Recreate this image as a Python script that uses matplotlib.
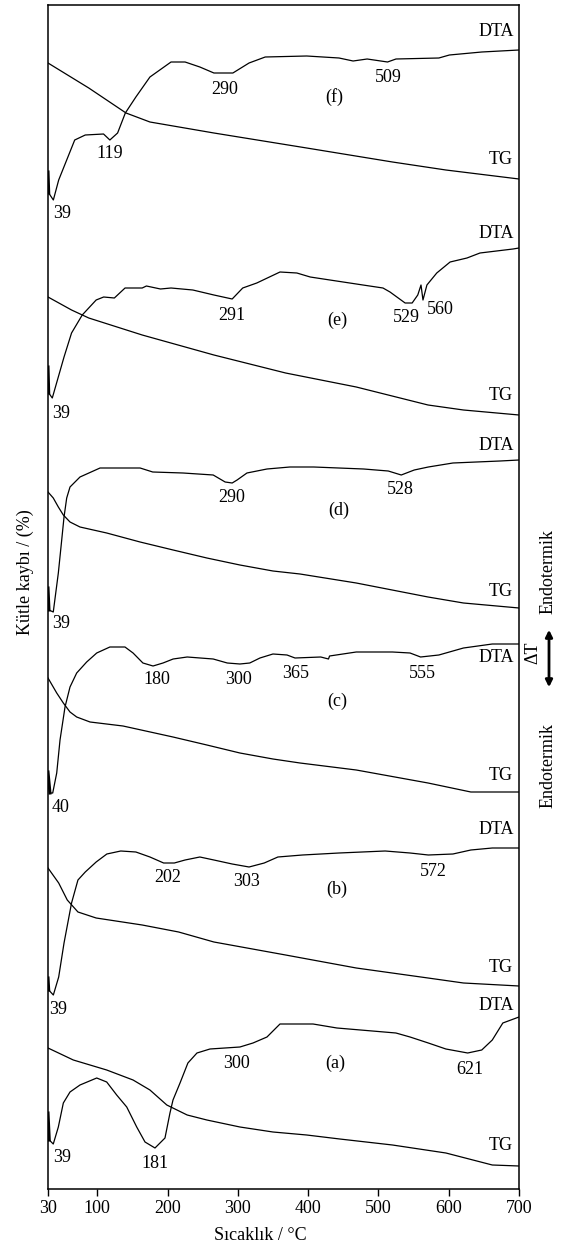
import matplotlib
matplotlib.use("Agg")
import matplotlib.pyplot as plt
from matplotlib.patches import FancyArrowPatch

plt.rcParams['font.family'] = ['Liberation Serif', 'DejaVu Serif']
FS = 13

# y values are signal, arbitrary units (down = larger)
# (f)
t_dta_f = [30, 31, 37.6, 45.2, 68, 83, 109, 118, 129, 140, 155, 175, 205, 225, 246, 266, 293, 316, 339, 398, 444, 464, 484, 513, 525, 586, 601, 647, 700]
y_dta_f = [172, 193, 200, 180, 140, 135, 134, 140, 133, 113, 97, 77, 62, 62, 67, 73, 73, 63, 57, 56, 58, 61, 59, 62, 59, 58, 55, 52, 50]
t_tg_f = [30, 88, 141, 175, 266, 398, 520, 596, 700]
y_tg_f = [63, 88, 113, 122, 133, 148, 162, 170, 179]

# (e)
t_dta_e = [30, 31, 36.1, 52.8, 63.5, 78.7, 98.5, 109.2, 124.4, 139.6, 164, 170, 190, 205, 236, 266, 292, 307, 327,
           360, 384, 403, 431, 478, 506.5, 516.5, 538, 548, 556, 560.6, 563.4, 569, 583, 602, 626, 644.5, 691.5, 700]
y_dta_e = [367, 393, 398, 357, 333, 315, 300, 297, 298, 288, 288, 286, 289, 288, 290, 295, 299, 288, 283,
           272, 273, 277, 280, 285, 288, 292, 303, 303, 295, 285, 300, 285, 273, 262, 258, 253, 249, 248]
t_tg_e = [30, 63.5, 88, 164, 266, 368, 468.5, 570.6, 621, 700]
y_tg_e = [297, 310, 318, 335, 355, 373, 387, 405, 410, 415]

# (d)
t_dta_d = [30, 31.4, 37.5, 44.7, 49.5, 52.8, 56.6, 61.3, 75.5, 104, 161, 179, 222, 265, 282, 292, 299, 313, 341.5, 374,
           408, 479, 514, 532.5, 551, 571, 606, 673, 700]
y_dta_d = [588, 610, 612, 573, 540, 517, 498, 487, 477, 468, 468, 472, 473, 475, 482, 483, 480, 473, 469, 467,
           467, 469, 471, 475, 470, 467, 463, 461, 460]
t_tg_d = [30, 37.5, 44.7, 51.8, 61.3, 75.5, 113.5, 161, 208, 256, 303, 350, 388.5, 468.5, 570.6, 621, 700]
y_tg_d = [492, 498, 507, 515, 522, 527, 533, 542, 550, 558, 565, 571, 574, 583, 597, 603, 608]

# (c)
t_dta_c = [30, 32.8, 36.7, 42.4, 47.1, 54.2, 61.3, 70.8, 85, 99.3, 118, 139.5, 151, 165, 179.4, 193.6, 208, 228, 265,
           285, 303, 317, 331.5, 350, 370, 381.4, 418, 429, 430.5, 468.5, 520, 545, 560, 586, 621, 662, 700]
y_dta_c = [772, 793, 793, 773, 740, 707, 687, 673, 662, 653, 647, 647, 653, 663, 666, 663, 659, 657, 659,
           663, 664, 663, 658, 654, 655, 658, 657, 659, 656, 652, 652, 653, 657, 655, 648, 644, 644]
t_tg_c = [30, 42.4, 51.8, 61.3, 70.8, 89.8, 136.7, 207.8, 256, 303, 350, 388.5, 468.5, 570.6, 631.5, 700]
y_tg_c = [678, 693, 703, 712, 717, 722, 726, 737, 745, 753, 759, 763, 770, 783, 792, 792]

# (b)
t_dta_b = [30, 31, 37.6, 45.2, 52.8, 63.5, 72.6, 83, 98.5, 113.7, 133.5, 155, 175, 194.5, 209.7, 225, 246, 266, 292, 316, 337.6, 357, 392, 444, 509.6, 545, 571, 606, 631.5, 662, 700]
y_dta_b = [978, 990, 995, 977, 943, 903, 880, 872, 862, 854, 851, 852, 857, 863, 863, 860, 857, 860, 864, 867, 863, 857, 855, 853, 851, 853, 855, 854, 850, 848, 848]
t_tg_b = [30, 45.2, 57.4, 72.6, 98.5, 164, 215.8, 266, 368, 468.5, 570.6, 621, 700]
y_tg_b = [868, 883, 900, 912, 918, 925, 932, 942, 955, 968, 978, 983, 986]

# (a)
t_dta_a = [30, 31.8, 37.5, 44.7, 51.8, 61.3, 75.5, 99.3, 113.5, 127.7, 142, 156.2, 168, 182.2, 196.4, 203.5, 207.8, 217.8,
           229, 241.9, 260.4, 303, 321.6, 341.5, 360, 407, 441, 524.9, 545, 571, 596, 627, 647, 662, 677, 700]
y_dta_a = [1113, 1140, 1144, 1127, 1103, 1092, 1085, 1078, 1082, 1095, 1107, 1127, 1142, 1148, 1138, 1113, 1100, 1083,
           1063, 1053, 1049, 1047, 1043, 1037, 1024, 1024, 1028, 1033, 1037, 1043, 1049, 1053, 1050, 1040, 1023, 1017]
t_tg_a = [30, 66, 113.5, 151, 175, 199, 228, 256, 303, 350, 398, 445, 520, 596, 662, 700]
y_tg_a = [1048, 1060, 1070, 1080, 1090, 1105, 1115, 1120, 1127, 1132, 1135, 1139, 1145, 1153, 1165, 1166]

# peak labels: (text, T, y)
labels = [
    ("DTA", 668, 32), ("TG", 674, 159), ("290", 281, 90), ("509", 514, 77), ("(f)", 437, 97), ("119", 118, 154), ("39", 50, 213),
    ("DTA", 668, 233), ("TG", 674, 396), ("291", 292, 315), ("(e)", 442, 320), ("529", 540, 318), ("560", 588, 310), ("39", 48, 413),
    ("DTA", 668, 445), ("TG", 674, 592), ("290", 292, 498), ("(d)", 443, 510), ("528", 531, 490), ("39", 48.5, 623),
    ("DTA", 668, 658), ("180", 185, 679), ("300", 301, 679), ("365", 382, 674), ("555", 563, 673), ("(c)", 441, 701), ("TG", 674, 775), ("40", 48, 808),
    ("DTA", 668, 829), ("202", 200, 877), ("303", 312, 882), ("572", 578, 872), ("(b)", 441, 889), ("TG", 674, 967), ("39", 45, 1010),
    ("DTA", 668, 1005), ("300", 298, 1064), ("(a)", 438, 1063), ("621", 630, 1069), ("39", 49.5, 1157), ("181", 182, 1163), ("TG", 674, 1146),
]

xticks = [30, 100, 200, 300, 400, 500, 600, 700]

W, H = 561, 1250
fig = plt.figure(figsize=(W / 100, H / 100), dpi=100)
ax = fig.add_axes([48 / W, 1 - 1189 / H, (519 - 48) / W, (1189 - 5) / H])

dta = [(t_dta_f, y_dta_f), (t_dta_e, y_dta_e), (t_dta_d, y_dta_d),
       (t_dta_c, y_dta_c), (t_dta_b, y_dta_b), (t_dta_a, y_dta_a)]
tg = [(t_tg_f, y_tg_f), (t_tg_e, y_tg_e), (t_tg_d, y_tg_d),
      (t_tg_c, y_tg_c), (t_tg_b, y_tg_b), (t_tg_a, y_tg_a)]
for t, y in dta:
    ax.plot(t, y, color="black", lw=0.9)
    ax.plot(t[:2], y[:2], color="black", lw=2.2)  # start-up spike looks heavier
for t, y in tg:
    ax.plot(t, y, color="black", lw=0.9)

for txt, t, y in labels:
    ax.text(t, y, txt, ha="center", va="center", fontsize=FS)

ax.set_xlim(30, 700)
ax.set_ylim(1189, 5)
ax.set_xticks(xticks)
ax.set_xticklabels([str(v) for v in xticks], fontsize=FS)
ax.set_yticks([])
ax.tick_params(axis="x", direction="out", length=5, width=1, pad=3)
for s in ax.spines.values():
    s.set_linewidth(1.1)

fig.text(260 / W, 1 - 1236 / H, "Sıcaklık / °C", ha="center", va="center", fontsize=FS)
fig.text(25 / W, 1 - 572 / H, "Kütle kaybı / (%)", ha="center", va="center", rotation=90, fontsize=FS)

# right side DTA direction marks
fig.text(548 / W, 1 - 572 / H, "Endotermik", ha="center", va="center", rotation=90, fontsize=FS)
fig.text(533 / W, 1 - 653 / H, "ΔT", ha="center", va="center", rotation=90, fontsize=FS)
fig.text(548 / W, 1 - 765 / H, "Endotermik", ha="center", va="center", rotation=90, fontsize=FS)
arr = FancyArrowPatch((549 / W, 1 - 627 / H), (549 / W, 1 - 690 / H), transform=fig.transFigure,
                      arrowstyle="<|-|>", mutation_scale=10, lw=2, color="black")
fig.add_artist(arr)

fig.savefig("out.png", dpi=100)
